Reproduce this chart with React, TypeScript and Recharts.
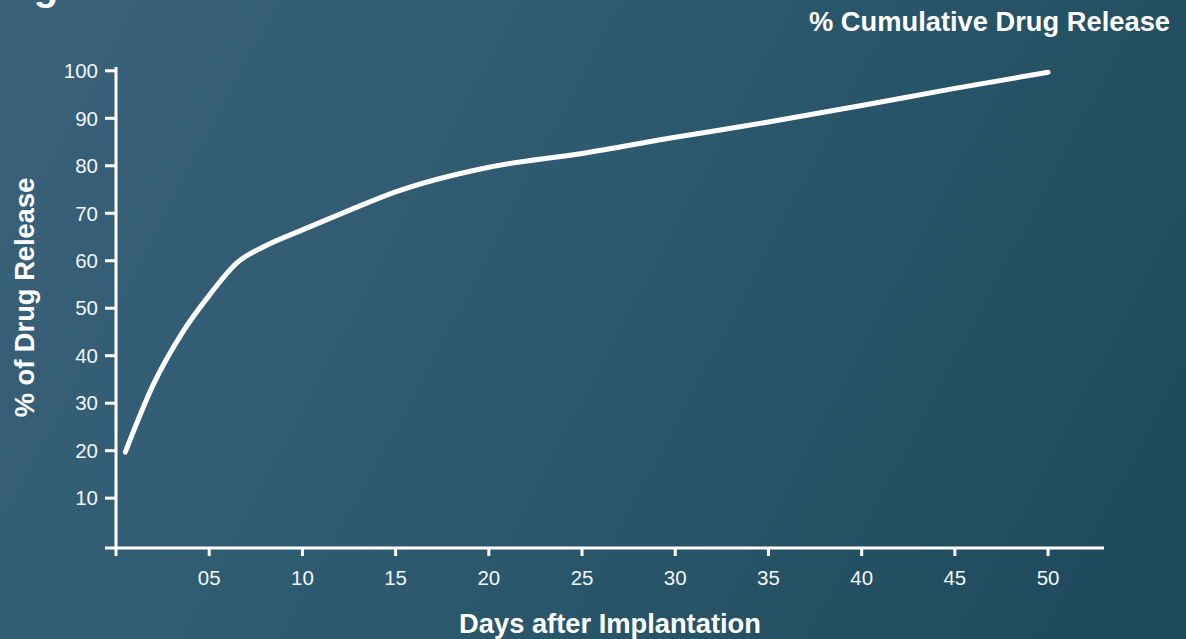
import { LineChart, Line, XAxis, YAxis } from "recharts";

const days = [0.5, 2, 3.5, 5, 6.5, 8, 10, 12.5, 15, 20, 25, 30, 35, 40, 45, 50];
const release = [19.7, 33.9, 44.5, 52.7, 59.6, 63.1, 66.5, 70.6, 74.5, 79.7, 82.6, 86, 89.2, 92.7, 96.3, 99.7];

const xTicks = [0, 5, 10, 15, 20, 25, 30, 35, 40, 45, 50];
const yTicks = [-0.5, 10, 20, 30, 40, 50, 60, 70, 80, 90, 100];

const chartTitle = "% Cumulative Drug Release";
const xTitle = "Days after Implantation";
const yTitle = "% of Drug Release";

const data = days.map((d, i) => ({ day: d, pct: release[i] }));

const FONT = '"Liberation Sans", Arial, sans-serif';
const axisStyle = { stroke: "#ffffff", strokeWidth: 3 };
const tickStyle = { fill: "#f2f4f5", fontSize: 20.5, fontFamily: FONT };

export default function App() {
    return (
        <div
            style={{
                position: "absolute",
                left: 0,
                top: 0,
                width: 1186,
                height: 639,
                overflow: "hidden",
                background: "linear-gradient(118deg, #3a617a 0%, #2d5a6f 45%, #1e485b 100%)",
            }}
        >
            <LineChart
                width={1186}
                height={639}
                data={data}
                margin={{ top: 67, right: 82, left: 56, bottom: 51 }}
            >
                <XAxis
                    type="number"
                    dataKey="day"
                    domain={[0, 53]}
                    ticks={xTicks}
                    tickFormatter={(v: number) => (v === 0 ? "" : v < 10 ? `0${v}` : `${v}`)}
                    height={40}
                    tickSize={8}
                    tickMargin={14}
                    axisLine={axisStyle}
                    tickLine={axisStyle}
                    tick={tickStyle}
                    interval={0}
                />
                <YAxis
                    type="number"
                    domain={[-0.5, 100.8]}
                    ticks={yTicks}
                    tickFormatter={(v: number) => (v <= 0 ? "" : `${v}`)}
                    width={60}
                    tickSize={11}
                    tickMargin={7}
                    axisLine={axisStyle}
                    tickLine={axisStyle}
                    tick={tickStyle}
                    interval={0}
                    allowDataOverflow
                />
                <Line
                    type="monotone"
                    dataKey="pct"
                    stroke="#ffffff"
                    strokeWidth={5}
                    strokeLinecap="round"
                    dot={false}
                    activeDot={false}
                    isAnimationActive={false}
                />
            </LineChart>
            <svg
                width={1186}
                height={639}
                style={{ position: "absolute", left: 0, top: 0, pointerEvents: "none" }}
                fontFamily={FONT}
                fontWeight="bold"
                fill="#ffffff"
            >
                {/* tail of a heading that sits above the visible frame */}
                <text x={46} y={0} fontSize={40} textAnchor="middle">g</text>
                <text x={1170} y={31} fontSize={27.3} textAnchor="end">{chartTitle}</text>
                <text x={610} y={633} fontSize={27.3} textAnchor="middle">{xTitle}</text>
                <text transform="translate(34, 297.5) rotate(-90)" fontSize={27.3} textAnchor="middle">
                    {yTitle}
                </text>
            </svg>
        </div>
    );
}
